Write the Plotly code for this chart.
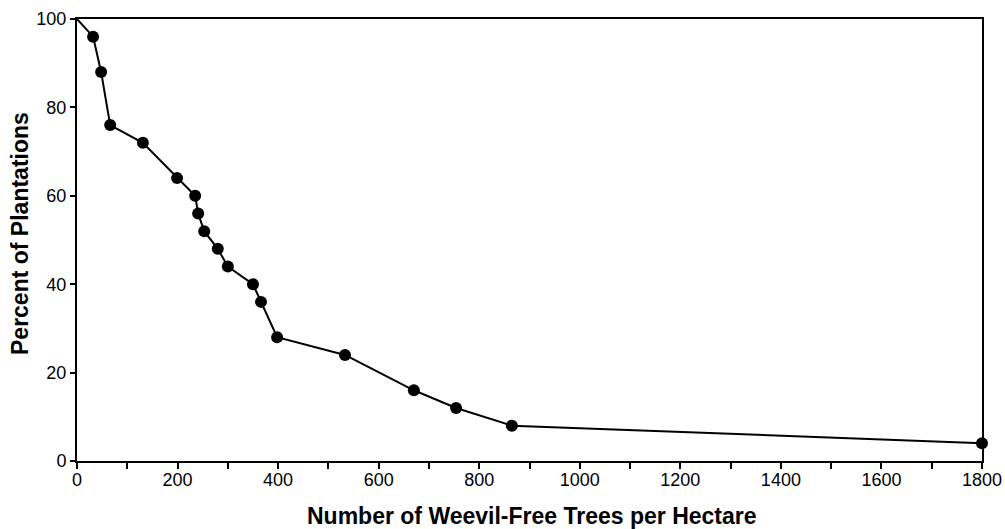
import plotly.graph_objects as go

trees_per_ha = [0, 32, 48, 66, 131, 199, 235, 241, 253, 280, 300, 350, 366, 398, 533, 670, 754, 865, 1800]
pct_plantations = [100, 96, 88, 76, 72, 64, 60, 56, 52, 48, 44, 40, 36, 28, 24, 16, 12, 8, 4]
marker_sizes = [0] + [12] * (len(trees_per_ha) - 1)

x_ticks = [0, 200, 400, 600, 800, 1000, 1200, 1400, 1600, 1800]
y_ticks = [0, 20, 40, 60, 80, 100]

x_title = "Number of Weevil-Free Trees per Hectare"
y_title = "Percent of Plantations"

fig = go.Figure()
fig.add_trace(go.Scatter(
    x=trees_per_ha, y=pct_plantations, mode="lines+markers",
    line=dict(color="black", width=2),
    marker=dict(color="black", size=marker_sizes, opacity=1, line=dict(width=0)),
    cliponaxis=False, showlegend=False,
))

font_family = "Liberation Sans, Arial, sans-serif"
fig.update_layout(
    width=1005, height=529,
    margin=dict(l=77, r=23, t=19, b=68),
    paper_bgcolor="white", plot_bgcolor="white",
    font=dict(family=font_family, color="black", size=18),
    xaxis=dict(
        range=[0, 1800], tickvals=x_ticks, ticks="outside", ticklen=6, tickwidth=2,
        tickcolor="black", showgrid=False, zeroline=False, automargin=False,
        showline=True, linecolor="black", linewidth=2, mirror=True,
        minor=dict(dtick=100, tick0=0, ticks="outside", ticklen=6, tickwidth=2, tickcolor="black", showgrid=False),
        tickfont=dict(size=18), ticklabelstandoff=-5,
    ),
    yaxis=dict(
        range=[0, 100], tickvals=y_ticks, ticks="outside", ticklen=5, tickwidth=2,
        tickcolor="black", showgrid=False, zeroline=False, automargin=False,
        showline=True, linecolor="black", linewidth=2, mirror=True,
        tickfont=dict(size=18),
    ),
    annotations=[
        dict(text="<b>" + x_title + "</b>", xref="paper", yref="paper", x=0.5, y=0,
             xanchor="center", yanchor="middle", xshift=2, yshift=-55,
             showarrow=False, font=dict(size=23)),
        dict(text="<b>" + y_title + "</b>", xref="paper", yref="paper", x=0, y=0.5,
             xanchor="center", yanchor="middle", xshift=-57, yshift=6, textangle=-90,
             showarrow=False, font=dict(size=23)),
    ],
)

fig.write_html(
    "out.html",
    config={"displayModeBar": False},
    post_script="document.body.style.margin='0';document.body.style.overflow='hidden';",
)
